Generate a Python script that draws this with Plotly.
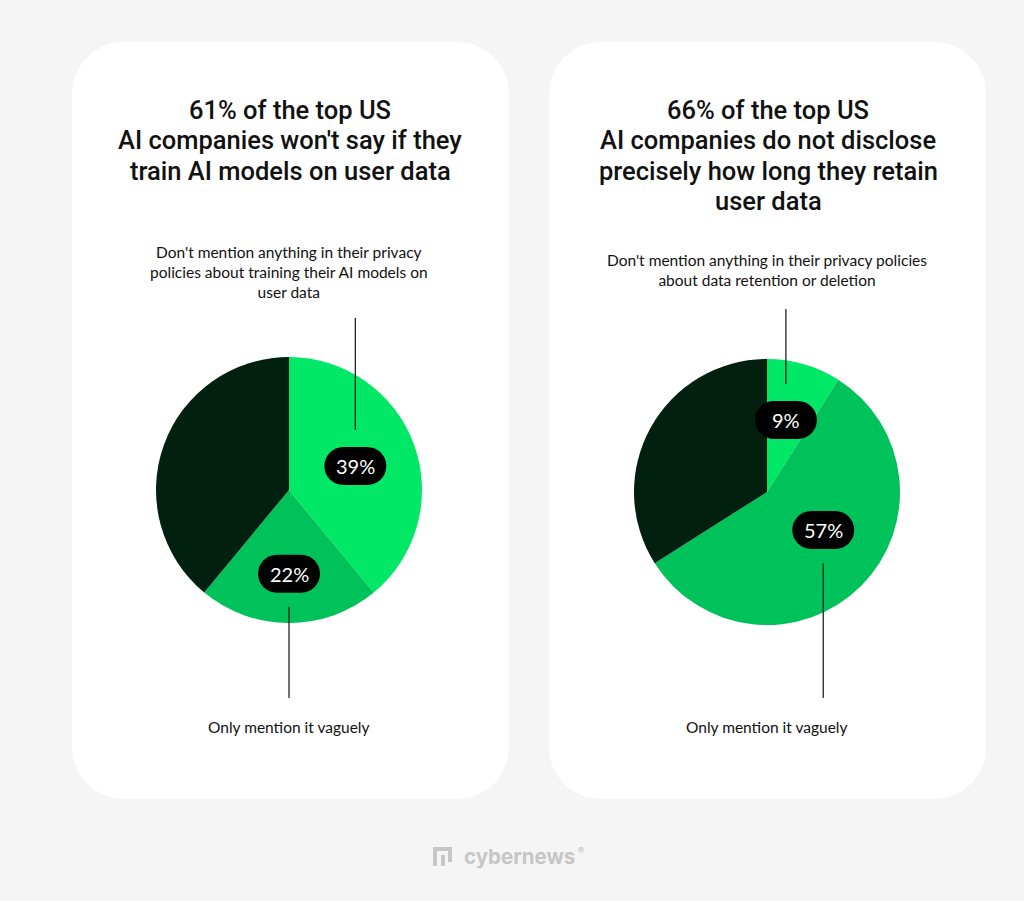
import math
import plotly.graph_objects as go

# ---- data ----
segments = ["Don't mention anything", "Only mention it vaguely", "Disclose it"]

train_values = [39, 22, 39]
retain_values = [9, 57, 34]

train_title = ["61% of the top US", "AI companies won't say if they", "train AI models on user data"]
retain_title = ["66% of the top US", "AI companies do not disclose",
                "precisely how long they retain", "user data"]

train_top_note = "Don't mention anything in their privacy<br>policies about training their AI models on<br>user data"
retain_top_note = "Don't mention anything in their privacy policies<br>about data retention or deletion"
bottom_note = "Only mention it vaguely"

colors = ["#00E865", "#00C25A", "#02200F"]

# ---- page geometry (pixels) ----
W, H = 1024, 901
BG = "#F5F5F5"
cards = [(72, 42, 509, 799), (549, 42, 986, 799)]
pies = [  # center x, center y, radius
    (289, 490, 133),
    (767, 492, 133),
]
# label placement along the slice mid-angle: (radius fraction, angle nudge in degrees)
label_place = [
    [(0.53, 0), (0.63, 0)],
    [(0.56, -1.5), (0.51, -11)],
]
title_first_y = 110
title_step = 30.3
note_y = [272, 270]
line_top = [318, 309]
line_bottom = 698
bottom_note_y = 727

PILL_W, PILL_H = 62, 38


def rounded_rect(x0, y0, x1, y1, r):
    k = 0.5523 * r
    return (
        f"M {x0 + r},{y0} L {x1 - r},{y0} "
        f"C {x1 - r + k},{y0} {x1},{y0 + r - k} {x1},{y0 + r} "
        f"L {x1},{y1 - r} "
        f"C {x1},{y1 - r + k} {x1 - r + k},{y1} {x1 - r},{y1} "
        f"L {x0 + r},{y1} "
        f"C {x0 + r - k},{y1} {x0},{y1 - r + k} {x0},{y1 - r} "
        f"L {x0},{y0 + r} "
        f"C {x0},{y0 + r - k} {x0 + r - k},{y0} {x0 + r},{y0} Z"
    )


fig = go.Figure()
shapes = []
annotations = []

for x0, y0, x1, y1 in cards:
    shapes.append(dict(type="path", path=rounded_rect(x0, y0, x1, y1, 52),
                       xref="x", yref="y", fillcolor="white", line_width=0, layer="below"))

for i, (vals, title, note) in enumerate([(train_values, train_title, train_top_note),
                                          (retain_values, retain_title, retain_top_note)]):
    cx, cy, r = pies[i]
    fig.add_trace(go.Pie(
        labels=segments, values=vals, sort=False, direction="clockwise", rotation=0,
        marker=dict(colors=colors, line=dict(width=0)),
        textinfo="none", hoverinfo="label+percent", showlegend=False,
        domain=dict(x=[(cx - r) / W, (cx + r) / W], y=[1 - (cy + r) / H, 1 - (cy - r) / H]),
    ))

    # title, one annotation per line for tighter leading
    for k, line in enumerate(title):
        annotations.append(dict(x=cx + 1, y=title_first_y + k * title_step, xref="x", yref="y",
                                text=line, showarrow=False, yanchor="middle",
                                font=dict(family="Roboto", size=25.5, color="#111111", weight=500)))
    annotations.append(dict(x=cx, y=note_y[i], xref="x", yref="y", text=note, showarrow=False,
                            font=dict(family="Lato", size=15.5, color="#111111"),
                            align="center", yanchor="middle"))
    annotations.append(dict(x=cx, y=bottom_note_y, xref="x", yref="y", text=bottom_note,
                            showarrow=False, font=dict(family="Lato", size=15.5, color="#111111"),
                            align="center", yanchor="middle"))

    # pills on the first two slices
    total = sum(vals)
    start = 0.0
    for j in range(2):
        span = vals[j] / total * 360
        frac, nudge = label_place[i][j]
        a = math.radians(start + span / 2 + nudge)
        px = cx + frac * r * math.sin(a)
        py = cy - frac * r * math.cos(a)
        start += span
        shapes.append(dict(type="path", xref="x", yref="y", fillcolor="black", line_width=0,
                           path=rounded_rect(px - PILL_W / 2, py - PILL_H / 2,
                                             px + PILL_W / 2, py + PILL_H / 2, PILL_H / 2)))
        annotations.append(dict(x=px, y=py, xref="x", yref="y", text=f"{vals[j]}%",
                                showarrow=False, font=dict(family="Lato", size=20, color="white")))
        # leader line: first slice goes up to the top note, second down to the bottom note
        if j == 0:
            shapes.append(dict(type="line", xref="x", yref="y", x0=px, x1=px,
                               y0=line_top[i], y1=py - PILL_H / 2 - 17,
                               line=dict(color="#111111", width=1.2)))
        else:
            shapes.append(dict(type="line", xref="x", yref="y", x0=px, x1=px,
                               y0=py + PILL_H / 2 + 14, y1=line_bottom,
                               line=dict(color="#111111", width=1.2)))

# cybernews logo
LOGO = "#C6C6C6"
shapes.append(dict(type="rect", xref="x", yref="y", x0=433, x1=452, y0=847, y1=866,
                   fillcolor=LOGO, line_width=0))
shapes.append(dict(type="path", xref="x", yref="y", fillcolor=BG, line_width=0,
                   path="M 437,866 L 437,851 L 448,851 L 448,862 L 452,862 L 452,866 L 445,866 "
                        "L 445,855 L 441,855 L 441,866 Z"))
annotations.append(dict(x=462, y=856, xref="x", yref="y", text="cybernews", showarrow=False,
                        xanchor="left", yanchor="middle",
                        font=dict(family="Inter", size=20.5, color=LOGO, weight=700)))
annotations.append(dict(x=576, y=850, xref="x", yref="y", text="®", showarrow=False,
                        xanchor="left", yanchor="middle",
                        font=dict(family="Inter", size=9, color=LOGO, weight=700)))

fig.update_layout(
    width=W, height=H,
    margin=dict(l=0, r=0, t=0, b=0),
    paper_bgcolor=BG, plot_bgcolor=BG,
    xaxis=dict(range=[0, W], visible=False, fixedrange=True),
    yaxis=dict(range=[H, 0], visible=False, fixedrange=True),
    shapes=shapes,
    annotations=annotations,
)

# drop the page's default body margin so the figure sits at the window's corner
fig.write_html("out.html", config={"displayModeBar": False},
               post_script="document.body.style.margin='0';document.body.style.overflow='hidden';")
